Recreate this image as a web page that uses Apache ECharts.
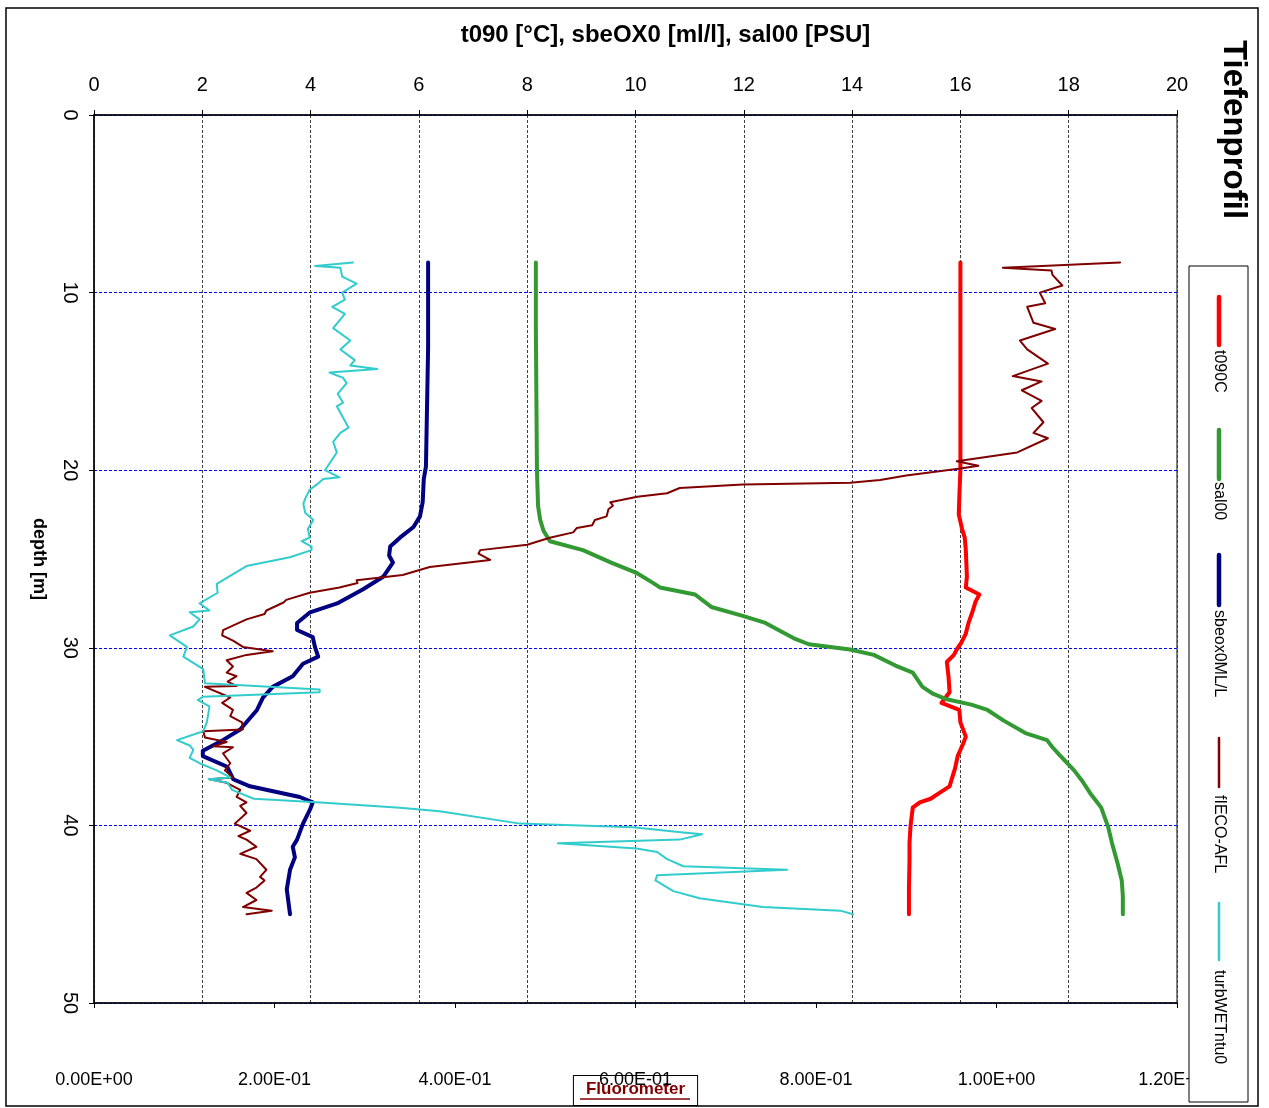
<!DOCTYPE html>
<html>
<head>
<meta charset="utf-8">
<title>Tiefenprofil</title>
<script src="https://cdn.jsdelivr.net/npm/echarts@6/dist/echarts.min.js"></script>
<style>
	html, body { margin: 0; padding: 0; background: #fff; }
	#chart { width: 1269px; height: 1108px; }
</style>
</head>
<body>
<div id="chart"></div>
<script>
	// series names (legend order)
	var seriesNames = ['t090C', 'sal00', 'sbeox0ML/L', 'fIECO-AFL', 'turbWETntu0'];
	var fluorTickLabels = ['0.00E+00', '2.00E-01', '4.00E-01', '6.00E-01', '8.00E-01', '1.00E+00', '1.20E+00'];

	// t090C [°C] - top axis
	var tempDepth = [8.3, 12, 16, 20, 21.5, 22.5, 23.3, 23.8, 24.5, 26.0, 26.6, 27.0, 27.4, 28.0, 28.6, 29.2, 29.7, 30.0, 30.4, 30.8, 31.6, 32.5, 32.9, 33.1, 33.5, 34.2, 35.0, 35.4, 36.1, 36.8, 37.3, 37.8, 38.2, 38.5, 38.7, 39.0, 40.0, 41.0, 42.0, 43.5, 45.0];
	var tempVal = [16.0, 16.0, 16.0, 16.0, 15.98, 15.97, 16.03, 16.08, 16.1, 16.12, 16.1, 16.35, 16.28, 16.22, 16.15, 16.1, 16.02, 15.95, 15.88, 15.75, 15.78, 15.8, 15.7, 15.65, 15.98, 16.0, 16.1, 16.05, 15.95, 15.9, 15.85, 15.8, 15.6, 15.45, 15.25, 15.12, 15.08, 15.06, 15.06, 15.05, 15.05];

	// sal00 [PSU] - top axis
	var salDepth = [8.3, 12, 16, 20, 22.0, 22.8, 23.4, 24.0, 24.5, 25.2, 25.8, 26.3, 26.6, 27.0, 27.7, 28.2, 28.6, 29.1, 29.5, 29.8, 30.1, 30.4, 31.0, 31.4, 32.2, 32.6, 32.9, 33.2, 33.5, 34.1, 34.8, 35.2, 35.6, 36.1, 36.9, 37.5, 38.2, 38.6, 39.0, 40.1, 41.0, 42.1, 43.1, 44.0, 45.0];
	var salVal = [8.16, 8.16, 8.17, 8.18, 8.2, 8.24, 8.3, 8.42, 9.03, 9.55, 10.03, 10.3, 10.45, 11.1, 11.4, 11.98, 12.4, 12.7, 12.95, 13.2, 13.96, 14.4, 14.8, 15.12, 15.3, 15.5, 15.75, 16.2, 16.5, 16.8, 17.2, 17.6, 17.7, 17.85, 18.1, 18.25, 18.4, 18.5, 18.6, 18.73, 18.8, 18.9, 18.98, 19.0, 19.0];

	// sbeox0 [ml/l] - top axis
	var oxDepth = [8.3, 13.1, 19.8, 20.5, 21.8, 22.6, 23.2, 23.8, 24.3, 24.8, 25.2, 26.0, 26.7, 27.5, 28.0, 28.6, 29.0, 29.4, 29.95, 30.5, 30.9, 31.6, 32.2, 32.8, 33.5, 34.6, 35.2, 35.8, 36.1, 36.7, 37.4, 37.8, 38.4, 38.7, 39.1, 39.9, 40.8, 41.2, 41.8, 42.5, 43.6, 45.0];
	var oxVal = [6.17, 6.17, 6.13, 6.09, 6.07, 6.02, 5.9, 5.65, 5.47, 5.45, 5.52, 5.34, 4.97, 4.49, 3.99, 3.75, 3.75, 4.04, 4.08, 4.14, 3.86, 3.67, 3.3, 3.12, 3.01, 2.7, 2.38, 2.01, 2.01, 2.46, 2.57, 2.88, 3.8, 4.04, 3.99, 3.86, 3.75, 3.67, 3.71, 3.62, 3.56, 3.62];

	// fIECO-AFL - bottom (Fluorometer) axis
	var flDepth = [8.3, 8.6, 8.75, 9.0, 9.6, 10.0, 10.6, 10.8, 11.7, 12.05, 12.7, 13.2, 14.0, 14.7, 15.0, 15.5, 16.1, 16.5, 17.3, 17.9, 18.2, 19.0, 19.5, 19.75, 19.9, 20.3, 20.55, 20.7, 20.8, 21.0, 21.3, 21.5, 21.8, 22.0, 22.2, 22.6, 22.8, 23.1, 23.25, 23.5, 23.8, 24.2, 24.5, 24.7, 25.05, 25.45, 25.9, 26.2, 26.35, 26.6, 26.9, 27.3, 27.45, 27.9, 28.1, 28.4, 29.0, 29.3, 29.6, 29.95, 30.2, 30.4, 30.7, 31.05, 31.4, 31.6, 31.9, 32.15, 32.2, 32.8, 33.1, 33.5, 33.85, 34.2, 34.6, 34.7, 35.05, 35.3, 35.55, 35.6, 35.95, 36.5, 36.9, 37.3, 37.4, 37.6, 38.0, 38.4, 38.7, 38.9, 39.3, 39.9, 40.3, 40.6, 40.8, 41.2, 41.6, 41.9, 42.5, 42.9, 43.1, 43.5, 43.8, 44.2, 44.6, 44.8, 45.0];
	var flVal = [1.137, 1.007, 1.061, 1.062, 1.073, 1.048, 1.054, 1.034, 1.041, 1.065, 1.026, 1.034, 1.057, 1.018, 1.050, 1.028, 1.050, 1.039, 1.052, 1.041, 1.057, 1.023, 0.956, 0.98, 0.96, 0.90, 0.871, 0.838, 0.719, 0.649, 0.635, 0.602, 0.572, 0.575, 0.57, 0.568, 0.555, 0.552, 0.535, 0.531, 0.505, 0.48, 0.428, 0.426, 0.439, 0.372, 0.342, 0.291, 0.292, 0.272, 0.239, 0.213, 0.21, 0.191, 0.189, 0.169, 0.143, 0.142, 0.154, 0.165, 0.198, 0.169, 0.147, 0.154, 0.147, 0.158, 0.148, 0.158, 0.123, 0.151, 0.142, 0.154, 0.151, 0.164, 0.165, 0.121, 0.123, 0.147, 0.132, 0.154, 0.143, 0.151, 0.145, 0.154, 0.128, 0.147, 0.162, 0.158, 0.169, 0.162, 0.169, 0.156, 0.173, 0.16, 0.169, 0.18, 0.162, 0.18, 0.191, 0.184, 0.189, 0.18, 0.169, 0.18, 0.165, 0.197, 0.169];

	// turbWETntu0 - bottom axis
	var turbDepth = [8.3, 8.5, 8.6, 9.1, 9.5, 10.0, 10.4, 10.8, 11.2, 12.0, 12.7, 13.2, 13.8, 14.1, 14.3, 14.5, 14.8, 15.1, 15.7, 16.2, 16.4, 17.6, 17.9, 18.4, 19.0, 20.0, 20.4, 20.5, 20.8, 21.1, 21.6, 21.9, 22.4, 22.8, 23.3, 23.8, 24.0, 24.3, 24.5, 24.9, 25.4, 26.4, 26.9, 27.5, 27.9, 28.0, 28.4, 28.8, 29.3, 29.95, 30.5, 31.2, 32.0, 32.35, 32.5, 32.75, 32.95, 33.3, 34.2, 34.7, 35.2, 35.5, 35.75, 36.2, 36.5, 36.9, 37.3, 37.4, 37.6, 38.0, 38.5, 38.7, 39.0, 39.2, 39.9, 40.1, 40.4, 40.5, 40.8, 41.0, 41.3, 41.5, 41.9, 42.3, 42.5, 42.8, 43.1, 43.7, 44.1, 44.6, 44.8, 45.0];
	var turbVal = [0.287, 0.245, 0.273, 0.275, 0.291, 0.275, 0.278, 0.264, 0.278, 0.265, 0.284, 0.273, 0.289, 0.284, 0.314, 0.261, 0.276, 0.28, 0.27, 0.276, 0.269, 0.282, 0.273, 0.265, 0.269, 0.256, 0.272, 0.254, 0.247, 0.239, 0.234, 0.232, 0.234, 0.243, 0.237, 0.239, 0.23, 0.241, 0.241, 0.217, 0.169, 0.136, 0.137, 0.117, 0.128, 0.106, 0.117, 0.11, 0.084, 0.103, 0.099, 0.121, 0.123, 0.25, 0.25, 0.121, 0.115, 0.128, 0.125, 0.121, 0.092, 0.106, 0.11, 0.106, 0.117, 0.136, 0.151, 0.127, 0.148, 0.153, 0.177, 0.247, 0.339, 0.383, 0.472, 0.597, 0.653, 0.674, 0.649, 0.514, 0.601, 0.624, 0.635, 0.653, 0.768, 0.624, 0.622, 0.642, 0.671, 0.741, 0.827, 0.841];

	var colors = ['#ff0000', '#339933', '#000080', '#800000', '#33cccc'];
	var widths = [4, 4, 4, 2, 2];
	var FONT = '"Liberation Sans", Arial, sans-serif';

	function pairs(vals, depths) {
		var out = [];
		for (var i = 0; i < vals.length; i++) {
			out.push([vals[i], depths[i]]);
		}
		return out;
	}

	var seriesData = [
		pairs(tempVal, tempDepth),
		pairs(salVal, salDepth),
		pairs(oxVal, oxDepth),
		pairs(flVal, flDepth),
		pairs(turbVal, turbDepth)
	];
	var axisIndex = [0, 0, 0, 1, 1];

	var series = [];
	for (var s = 0; s < seriesNames.length; s++) {
		series.push({
			name: seriesNames[s],
			type: 'line',
			xAxisIndex: axisIndex[s],
			yAxisIndex: 0,
			data: seriesData[s],
			showSymbol: false,
			symbol: 'none',
			lineStyle: { color: colors[s], width: widths[s], join: 'round', cap: 'round' },
			itemStyle: { color: colors[s] },
			z: 10 + s
		});
	}

	// hand made legend, drawn rotated like the original
	var legendLines = [[297, 345], [430, 479], [555, 605], [738, 787], [903, 960]];
	var legendTextY = [350, 482, 610, 795, 970];
	var legendItems = [{
		type: 'rect',
		z: 100,
		shape: { x: 1189, y: 266, width: 59, height: 836 },
		style: { fill: '#fff', stroke: '#000', lineWidth: 1 }
	}];
	for (var k = 0; k < seriesNames.length; k++) {
		legendItems.push({
			type: 'line',
			z: 101,
			shape: { x1: 1219, y1: legendLines[k][0], x2: 1219, y2: legendLines[k][1] },
			style: { stroke: colors[k], lineWidth: widths[k] + 0.5, lineCap: 'round' }
		});
		legendItems.push({
			type: 'text',
			z: 101,
			x: 1219, y: legendTextY[k],
			rotation: -Math.PI / 2,
			style: { text: seriesNames[k], font: '16px ' + FONT, fill: '#000', align: 'left', verticalAlign: 'middle' }
		});
	}

	var chart = echarts.init(document.getElementById('chart'), null, { renderer: 'canvas' });
	chart.setOption({
		animation: false,
		backgroundColor: '#fff',
		textStyle: { fontFamily: FONT },
		grid: {
			left: 94, right: 92, top: 115, bottom: 105,
			show: true, borderColor: '#808080', borderWidth: 2,
			outerBoundsMode: 'none'
		},
		xAxis: [{
			type: 'value',
			position: 'top',
			min: 0, max: 20, interval: 2,
			name: 't090 [°C], sbeOX0 [ml/l], sal00 [PSU]',
			nameLocation: 'middle',
			nameGap: 68,
			nameMoveOverlap: false,
			nameTextStyle: { fontSize: 24, fontWeight: 'bold', color: '#000', padding: [0, 0, 0, 60] },
			axisLine: { show: true, lineStyle: { color: '#000', width: 1.5 } },
			axisTick: { show: true, length: 5, lineStyle: { color: '#000' } },
			axisLabel: { fontSize: 20, color: '#000', margin: 20 },
			splitLine: { show: true, lineStyle: { color: '#404040', type: [3, 2], width: 1 } }
		}, {
			type: 'value',
			position: 'bottom',
			min: 0, max: 1.2, interval: 0.2,
			name: 'Fluorometer',
			nameLocation: 'middle',
			nameGap: 73,
			nameMoveOverlap: false,
			nameTextStyle: {
				fontSize: 17, fontWeight: 'bold', color: '#800000',
				backgroundColor: '#fff', borderColor: '#000', borderWidth: 1,
				padding: [5, 12, 7, 12]
			},
			axisLine: { show: true, onZero: false, lineStyle: { color: '#000', width: 1.5 } },
			axisTick: { show: true, length: 5, lineStyle: { color: '#000' } },
			axisLabel: {
				fontSize: 18, color: '#000', margin: 68,
				formatter: function (v) { return fluorTickLabels[Math.round(v / 0.2)]; }
			},
			splitLine: { show: false }
		}],
		yAxis: [{
			type: 'value',
			inverse: true,
			min: 0, max: 50, interval: 10,
			name: 'depth [m]',
			nameLocation: 'middle',
			nameGap: 46,
			nameMoveOverlap: false,
			nameRotate: -90,
			nameTextStyle: { fontSize: 18, fontWeight: 'bold', color: '#000' },
			axisLine: { show: true, onZero: false, lineStyle: { color: '#000', width: 1.5 } },
			axisTick: { show: true, length: 5, lineStyle: { color: '#000' } },
			axisLabel: { fontSize: 20, color: '#000', rotate: -90, margin: 14 },
			splitLine: { show: true, lineStyle: { color: '#0000ff', type: [3, 2], width: 1 } }
		}],
		series: series,
		graphic: [{
			type: 'rect',
			z: 0,
			shape: { x: 6, y: 8, width: 1252, height: 1098 },
			style: { fill: 'none', stroke: '#000', lineWidth: 1.5 }
		}, {
			type: 'text',
			x: 1233, y: 40,
			rotation: -Math.PI / 2,
			style: { text: 'Tiefenprofil', font: 'bold 33px ' + FONT, fill: '#000', align: 'left', verticalAlign: 'middle' }
		}, {
			type: 'line',
			z: 200,
			shape: { x1: 580, y1: 1099, x2: 690, y2: 1099 },
			style: { stroke: '#800000', lineWidth: 1.5 }
		}, {
			type: 'group',
			children: legendItems
		}]
	});
</script>
</body>
</html>
